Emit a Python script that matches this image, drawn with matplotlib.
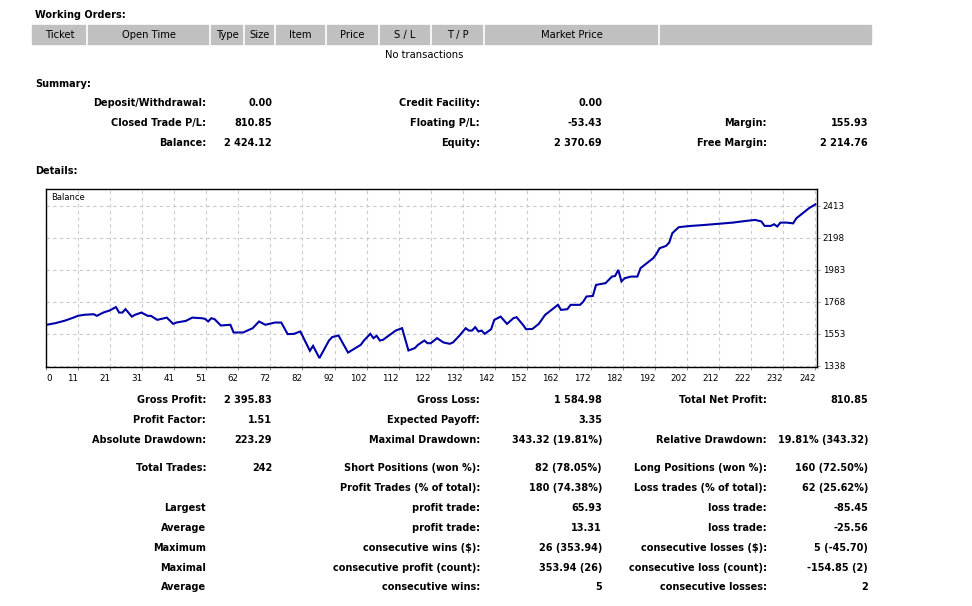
import numpy as np
import matplotlib
matplotlib.use('Agg')
import matplotlib.pyplot as plt
from matplotlib.lines import Line2D

# Balance curve (trade number, balance)
trade_no = [0, 3, 6, 9, 10, 12, 15, 16, 18, 20, 22, 23, 24, 25, 27, 28, 30, 32, 33, 35,
            36, 38, 40, 41, 44, 46, 49, 50, 51, 52, 53, 55, 58, 59, 62, 65, 67, 69, 72, 74,
            76, 78, 80, 83, 84, 86, 89, 90, 92, 95, 99, 100, 102, 103, 104, 105, 106, 110, 112, 114,
            116, 117, 119, 120, 121, 123, 125, 127, 128, 130, 132, 133, 134, 135, 136, 137, 138, 140, 141, 143,
            145, 147, 148, 150, 151, 153, 155, 157, 159, 161, 162, 164, 165, 168, 169, 170, 172, 173, 176, 178,
            179, 180, 181, 182, 184, 186, 187, 191, 192, 193, 195, 196, 197, 199, 201, 203, 207, 211, 216, 220,
            223, 225, 226, 228, 229, 230, 231, 233, 235, 236, 238, 240, 242]
balance = [1613, 1625, 1642, 1665, 1674, 1681, 1685, 1674, 1696, 1710, 1733, 1696, 1696, 1719, 1669, 1681, 1696, 1674, 1674, 1647,
           1652, 1662, 1620, 1629, 1640, 1662, 1658, 1654, 1636, 1658, 1652, 1609, 1614, 1562, 1562, 1591, 1636, 1614, 1629, 1629,
           1551, 1553, 1569, 1439, 1472, 1390, 1508, 1531, 1542, 1427, 1479, 1508, 1553, 1524, 1540, 1508, 1513, 1575, 1591, 1441,
           1457, 1479, 1508, 1490, 1490, 1524, 1495, 1486, 1495, 1540, 1591, 1575, 1575, 1598, 1569, 1575, 1553, 1584, 1647, 1669,
           1620, 1658, 1665, 1614, 1584, 1586, 1620, 1681, 1714, 1748, 1714, 1719, 1748, 1748, 1770, 1804, 1808, 1882, 1894, 1938,
           1942, 1983, 1905, 1927, 1938, 1938, 1995, 2062, 2091, 2129, 2144, 2166, 2230, 2270, 2275, 2279, 2285, 2292, 2301, 2312,
           2319, 2309, 2279, 2279, 2290, 2275, 2301, 2301, 2296, 2330, 2364, 2398, 2424]

x_tick_labels = ['0', '11', '21', '31', '41', '51', '62', '72', '82', '92', '102', '112', '122',
                 '132', '142', '152', '162', '172', '182', '192', '202', '212', '222', '232', '242']
y_ticks = [1338, 1553, 1768, 1983, 2198, 2413]

# Working orders table header
order_cols = ['Ticket', 'Open Time', 'Type', 'Size', 'Item', 'Price', 'S / L', 'T / P', 'Market Price', '']
order_edges = [32, 87, 210, 244, 275, 326, 379, 431, 484, 659, 871]

# Summary block: (label, value) for three columns
summary_rows = [
    [('Deposit/Withdrawal:', '0.00'), ('Credit Facility:', '0.00'), None],
    [('Closed Trade P/L:', '810.85'), ('Floating P/L:', '-53.43'), ('Margin:', '155.93')],
    [('Balance:', '2 424.12'), ('Equity:', '2 370.69'), ('Free Margin:', '2 214.76')],
]

# Details block below the chart
detail_rows = [
    (400, [('Gross Profit:', '2 395.83'), ('Gross Loss:', '1 584.98'), ('Total Net Profit:', '810.85')]),
    (420, [('Profit Factor:', '1.51'), ('Expected Payoff:', '3.35'), None]),
    (440, [('Absolute Drawdown:', '223.29'), ('Maximal Drawdown:', '343.32 (19.81%)'),
           ('Relative Drawdown:', '19.81% (343.32)')]),
    (468, [('Total Trades:', '242'), ('Short Positions (won %):', '82 (78.05%)'),
           ('Long Positions (won %):', '160 (72.50%)')]),
    (488, [None, ('Profit Trades (% of total):', '180 (74.38%)'),
           ('Loss trades (% of total):', '62 (25.62%)')]),
    (508, [('Largest', ''), ('profit trade:', '65.93'), ('loss trade:', '-85.45')]),
    (528, [('Average', ''), ('profit trade:', '13.31'), ('loss trade:', '-25.56')]),
    (548, [('Maximum', ''), ('consecutive wins ($):', '26 (353.94)'), ('consecutive losses ($):', '5 (-45.70)')]),
    (568, [('Maximal', ''), ('consecutive profit (count):', '353.94 (26)'),
           ('consecutive loss (count):', '-154.85 (2)')]),
    (587, [('Average', ''), ('consecutive wins:', '5'), ('consecutive losses:', '2')]),
]

W, H = 972, 606
plt.rcParams['font.family'] = ['DejaVu Sans']
fig = plt.figure(figsize=(W / 100, H / 100), dpi=100)
FS = 7


def txt(x, y, s, ha='left', bold=True, size=FS):
    fig.text(x / W, 1 - y / H, s, ha=ha, va='center', fontsize=size,
             fontweight='bold' if bold else 'normal', color='black')


# section titles
txt(35, 15, 'Working Orders:')
txt(35, 84, 'Summary:')
txt(35, 171, 'Details:')

# gray header bar of the orders table, white separators between columns
fig.patches.append(plt.Rectangle((32 / W, 1 - 44 / H), (871 - 32) / W, 19 / H,
                                 transform=fig.transFigure, color='#C0C0C0', zorder=0))
for i, name in enumerate(order_cols):
    x0, x1 = order_edges[i], order_edges[i + 1]
    if i > 0:
        fig.lines.append(Line2D([x0 / W, x0 / W], [1 - 44 / H, 1 - 25 / H],
                                transform=fig.transFigure, color='white', linewidth=1.2))
    if name:
        txt((x0 + x1) / 2, 35, name, ha='center', bold=False, size=7.2)
txt(424, 55, 'No transactions', ha='center', bold=False, size=7.2)

# summary block
label_x = [206, 480, 767]
value_x = [272, 602, 868]
for r, row in enumerate(summary_rows):
    y = 103 + 20 * r
    for c, item in enumerate(row):
        if item is None:
            continue
        txt(label_x[c], y, item[0], ha='right')
        txt(value_x[c], y, item[1], ha='right')

# details block
for y, row in detail_rows:
    for c, item in enumerate(row):
        if item is None:
            continue
        txt(label_x[c], y, item[0], ha='right')
        if item[1]:
            txt(value_x[c], y, item[1], ha='right')

# balance chart
ax = fig.add_axes([46 / W, 1 - 367 / H, (817 - 46) / W, (367 - 189) / H])
ax.plot(trade_no, balance, color='#0000A8', linewidth=1.5, solid_joinstyle='miter')
ax.set_xlim(0, 242.5)
ax.set_ylim(1330, 2527)

xpos = np.linspace(0, 242, len(x_tick_labels))
ax.set_xticks(xpos)
ax.set_xticklabels(x_tick_labels, fontsize=6.3)
for i, lab in enumerate(ax.get_xticklabels()):
    lab.set_ha('left' if i == 0 else 'right')
ax.set_yticks(y_ticks)
ax.set_yticklabels([str(v) for v in y_ticks], fontsize=6.3)
ax.yaxis.tick_right()
ax.tick_params(axis='both', length=2, width=0.6, color='#808080', pad=2)
ax.tick_params(axis='x', pad=3)
ax.grid(True, color='#CBCBCB', linestyle=(0, (3, 3)), linewidth=0.8)
for s in ax.spines.values():
    s.set_color('black')
    s.set_linewidth(1.0)
ax.text(0.006, 0.955, 'Balance', transform=ax.transAxes, fontsize=6, va='center', ha='left')

plt.savefig('out.png', dpi=100)
